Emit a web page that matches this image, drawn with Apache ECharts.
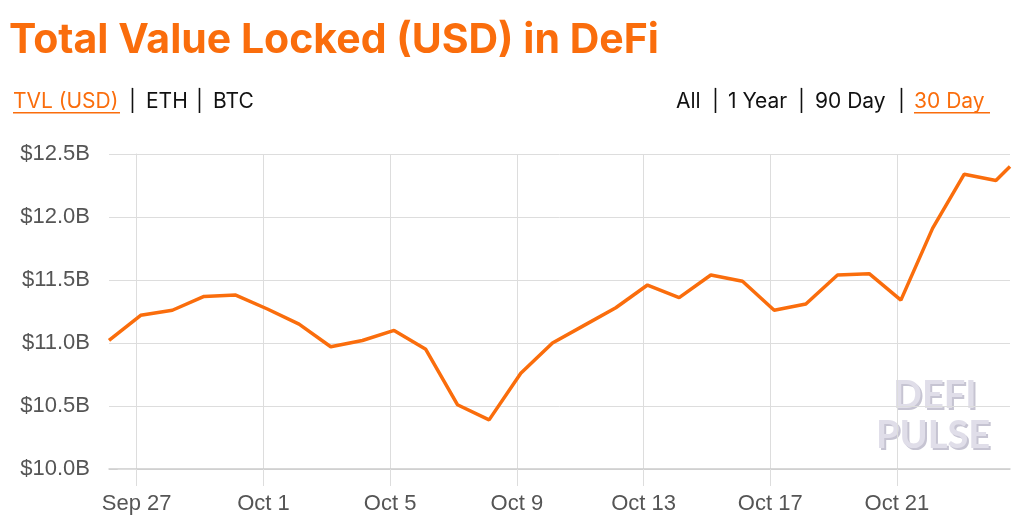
<!DOCTYPE html>
<html>
<head>
<meta charset="utf-8">
<script src="https://cdn.jsdelivr.net/npm/echarts@6/dist/echarts.min.js"></script>
<style>
  html, body { margin: 0; padding: 0; background: #fff; }
  #main { width: 1024px; height: 524px; }
</style>
</head>
<body>
<div id="main"></div>
<script>
var tvlChart = echarts.init(document.getElementById("main"));

// daily snapshots (UTC) and total value locked in billions of USD
var pointTimes = [
    '2020-09-26T03:00Z', '2020-09-27T03:00Z', '2020-09-28T03:00Z', '2020-09-29T03:00Z', '2020-09-30T03:00Z',
    '2020-10-01T03:00Z', '2020-10-02T03:00Z', '2020-10-03T03:00Z', '2020-10-04T03:00Z', '2020-10-05T03:00Z',
    '2020-10-06T03:00Z', '2020-10-07T03:00Z', '2020-10-08T03:00Z', '2020-10-09T03:00Z', '2020-10-10T03:00Z',
    '2020-10-11T03:00Z', '2020-10-12T03:00Z', '2020-10-13T03:00Z', '2020-10-14T03:00Z', '2020-10-15T03:00Z',
    '2020-10-16T03:00Z', '2020-10-17T03:00Z', '2020-10-18T03:00Z', '2020-10-19T03:00Z', '2020-10-20T03:00Z',
    '2020-10-21T03:00Z', '2020-10-22T03:00Z', '2020-10-23T03:00Z', '2020-10-24T03:00Z', '2020-10-24T13:40Z'
];
var tvlValues = [
    11.02, 11.22, 11.26, 11.37, 11.38,
    11.27, 11.15, 10.97, 11.02, 11.10,
    10.95, 10.51, 10.39, 10.76, 11.00,
    11.14, 11.28, 11.46, 11.36, 11.54,
    11.49, 11.26, 11.31, 11.54, 11.55,
    11.34, 11.91, 12.34, 12.29, 12.40
];
var tickDates = ['2020-09-27T00:00Z', '2020-10-01T00:00Z', '2020-10-05T00:00Z', '2020-10-09T00:00Z',
    '2020-10-13T00:00Z', '2020-10-17T00:00Z', '2020-10-21T00:00Z'];
var tickNames = ['Sep 27', 'Oct 1', 'Oct 5', 'Oct 9', 'Oct 13', 'Oct 17', 'Oct 21'];
var yMin = 10, yMax = 12.5, yStep = 0.5;

var baseTime = Date.parse(tickDates[0]);
function toDays(s) { return (Date.parse(s) - baseTime) / 86400000; }

var seriesData = pointTimes.map(function (t, i) { return [toDays(t), tvlValues[i]]; });
var tickDays = tickDates.map(toDays);

var orange = '#fa6d0c';
var gridColor = '#dddddd';
var navFont = '21px Inter';

function navText(x, text, color) {
    return { type: 'text', x: x, y: 91, style: { text: text, fill: color, font: navFont } };
}

tvlChart.setOption({
    animation: false,
    backgroundColor: '#ffffff',
    grid: { left: 109, right: 14, top: 154, bottom: 55 },
    xAxis: {
        type: 'value',
        min: seriesData[0][0],
        max: seriesData[seriesData.length - 1][0],
        axisLine: { show: true, lineStyle: { color: '#cccccc', width: 1.5 } },
        axisTick: { show: true, length: 17, customValues: tickDays, lineStyle: { color: gridColor } },
        axisLabel: {
            customValues: tickDays,
            margin: 24,
            color: '#555555',
            fontFamily: 'Liberation Sans',
            fontSize: 22,
            formatter: function (v) {
                for (var i = 0; i < tickDays.length; i++) {
                    if (Math.abs(tickDays[i] - v) < 1e-6) return tickNames[i];
                }
                return '';
            }
        },
        splitLine: { show: true, lineStyle: { color: gridColor, width: 1 } }
    },
    yAxis: {
        type: 'value',
        min: yMin,
        max: yMax,
        interval: yStep,
        axisLine: { show: true, lineStyle: { color: gridColor } },
        axisTick: { show: true, length: 19, lineStyle: { color: gridColor } },
        axisLabel: {
            margin: 19,
            color: '#555555',
            fontFamily: 'Liberation Sans',
            fontSize: 22,
            formatter: function (v) { return '$' + v.toFixed(1) + 'B'; }
        },
        splitLine: { show: true, lineStyle: { color: gridColor, width: 1 } }
    },
    graphic: [
        {
            type: 'text', x: 9, y: 20,
            style: { text: 'Total Value Locked (USD) in DeFi', fill: orange, font: 'bold 41px Inter' }
        },
        navText(13, 'TVL (USD)', orange),
        navText(129, '|', '#111111'),
        navText(146, 'ETH', '#111111'),
        navText(196, '|', '#111111'),
        navText(213, 'BTC', '#111111'),
        { type: 'rect', shape: { x: 13, y: 112, width: 107, height: 1.5 }, style: { fill: orange } },
        navText(676, 'All', '#111111'),
        navText(712, '|', '#111111'),
        navText(728, '1 Year', '#111111'),
        navText(798, '|', '#111111'),
        navText(815, '90 Day', '#111111'),
        navText(898, '|', '#111111'),
        navText(914, '30 Day', orange),
        { type: 'rect', shape: { x: 914, y: 112, width: 76, height: 1.5 }, style: { fill: orange } },
        {
            type: 'group', x: 876, y: 377,
            children: [
                { type: 'text', x: 19, y: 2, style: { text: 'DEFI', fill: '#c6c4d2', font: 'bold 38px Lato' } },
                { type: 'text', x: 17, y: 0, style: { text: 'DEFI', fill: '#e0dee9', font: 'bold 38px Lato' } },
                { type: 'text', x: 2, y: 42, style: { text: 'PULSE', fill: '#c6c4d2', font: 'bold 38px Lato' } },
                { type: 'text', x: 0, y: 40, style: { text: 'PULSE', fill: '#e0dee9', font: 'bold 38px Lato' } }
            ]
        }
    ],
    series: [{
        type: 'line',
        data: seriesData,
        showSymbol: false,
        symbol: 'none',
        lineStyle: { color: orange, width: 3.5 },
        z: 3
    }]
});
</script>
</body>
</html>
